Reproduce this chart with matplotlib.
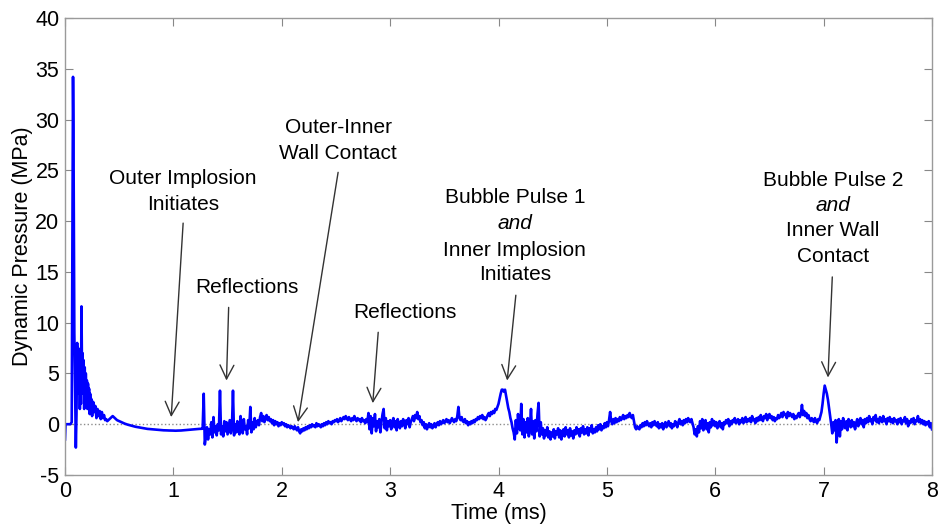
import numpy as np
import matplotlib
matplotlib.use("Agg")
import matplotlib.pyplot as plt

plt.rcParams['font.family'] = ['Liberation Sans', 'DejaVu Sans']
plt.rcParams['axes.unicode_minus'] = False

# -------------------------
# Pressure trace (MPa vs ms)
# -------------------------

# initial shock region, irregular samples
t_early = [0.0, 0.005, 0.05, 0.062, 0.068, 0.074, 0.078, 0.082, 0.086, 0.09, 0.095,
           0.1, 0.106, 0.112, 0.117, 0.122, 0.127, 0.132, 0.137, 0.142, 0.147, 0.152,
           0.157, 0.162, 0.167, 0.172, 0.177, 0.182, 0.187, 0.192, 0.197, 0.202,
           0.207, 0.212, 0.217, 0.222, 0.227, 0.232, 0.237, 0.242, 0.25, 0.26,
           0.27, 0.28, 0.29, 0.30, 0.31, 0.32, 0.33, 0.34, 0.35, 0.36, 0.37, 0.38,
           0.39, 0.40, 0.42, 0.44, 0.46, 0.48]
p_early = [-1.5, 0.0, 0.0, 0.2, 16.0, 34.2, 29.0, 19.0, 9.0, 6.0, 2.0,
           -2.3, 1.0, 8.0, 4.0, 7.5, 3.0, 6.0, 1.5, 5.0, 2.0, 11.6,
           5.0, 7.0, 3.0, 6.3, 1.5, 5.6, 2.5, 5.0, 3.0, 4.3,
           1.5, 4.0, 2.0, 3.5, 1.0, 3.0, 1.5, 2.5, 0.8, 2.2,
           1.2, 1.8, 0.6, 1.5, 0.8, 1.3, 0.5, 1.2, 0.6, 0.9, 0.4, 0.5,
           0.3, 0.4, 0.6, 0.8, 0.6, 0.4]

# rest of the record, one value every 0.01 ms starting at 0.5 ms
T_MAIN0 = 0.5
DT_MAIN = 0.01
p_main = [
    0.3, 0.25, 0.2, 0.15, 0.1, 0.06, 0.02, -0.02, -0.05, -0.08,          # 0.5
    -0.11, -0.14, -0.17, -0.2, -0.22, -0.25, -0.27, -0.3, -0.32, -0.34,  # 0.6
    -0.36, -0.38, -0.4, -0.41, -0.43, -0.44, -0.46, -0.47, -0.48, -0.5,  # 0.7
    -0.51, -0.52, -0.53, -0.54, -0.55, -0.56, -0.56, -0.57, -0.58, -0.58,# 0.8
    -0.59, -0.6, -0.6, -0.61, -0.61, -0.62, -0.62, -0.62, -0.63, -0.63,  # 0.9
    -0.63, -0.64, -0.64, -0.63, -0.63, -0.63, -0.62, -0.62, -0.61, -0.6, # 1.0
    -0.6, -0.59, -0.58, -0.57, -0.56, -0.55, -0.54, -0.53, -0.52, -0.51, # 1.1
    -0.5, -0.49, -0.48, -0.47, -0.46, -0.46, -0.45, -0.44, 3.0, -2.0,    # 1.2
    -1.2, -0.3, -1.5, -0.5, -1.0, 0.2, -1.3, 0.7, -0.8, -0.2,            # 1.3
    -1.1, 0.0, -0.6, 3.3, -1.0, -0.2, -1.2, 0.3, -0.7, 0.2,              # 1.4
    -1.0, -0.3, 0.4, -0.9, -0.4, 3.3, -1.1, 0.0, -0.8, 0.3,              # 1.5
    -0.6, -1.0, 0.8, -0.3, -0.9, 0.5, -0.5, -0.2, -1.0, 0.4,             # 1.6
    -0.4, 1.7, -0.8, 0.2, -0.5, 0.6, -0.3, 0.1, 0.4, -0.1,               # 1.7
    0.7, 1.1, 0.3, 0.8, 0.2, 0.6, 0.9, 0.4, 0.7, 0.3,                    # 1.8
    0.5, 0.1, 0.4, -0.1, 0.3, 0.0, 0.2, -0.2, 0.1, -0.1,                 # 1.9
    0.2, 0.0, 0.1, -0.2, 0.0, -0.3, -0.1, -0.2, -0.4, -0.2,              # 2.0
    -0.3, -0.5, -0.2, -0.4, -0.6, -0.3, -0.7, -0.9, -0.5, -0.7,          # 2.1
    -0.4, -0.6, -0.3, -0.5, -0.2, -0.4, -0.1, -0.3, 0.0, -0.2,           # 2.2
    -0.1, -0.3, 0.1, -0.2, 0.0, -0.1, -0.3, 0.0, -0.2, 0.1,              # 2.3
    -0.1, 0.2, 0.0, 0.3, 0.1, 0.2, 0.0, 0.3, 0.2, 0.4,                   # 2.4
    0.3, 0.5, 0.2, 0.4, 0.6, 0.3, 0.5, 0.7, 0.5, 0.8,                    # 2.5
    0.6, 0.4, 0.7, 0.5, 0.3, 0.6, 0.4, 0.8, 0.5, 0.3,                    # 2.6
    0.6, 0.4, 0.5, 0.2, 0.6, 0.3, 0.4, 0.1, 0.5, 0.2,                    # 2.7
    1.1, -0.5, 0.8, -0.9, 0.6, -0.2, 1.0, -0.7, 0.3, -0.3,               # 2.8
    0.5, -0.8, 0.2, 1.0, 1.5, -0.4, 0.6, -0.6, 0.3, -0.2,                # 2.9
    0.4, -0.5, 0.2, 0.6, -0.3, 0.3, -0.6, 0.5, 0.0, -0.4,                # 3.0
    0.3, -0.2, 0.5, 0.1, -0.4, 0.4, 0.0, 0.6, -0.3, 0.2,                 # 3.1
    0.5, 0.8, 0.3, 0.9, 0.6, 1.2, 0.5, 0.8, 0.2, 0.4,                    # 3.2
    -0.1, 0.2, -0.4, 0.0, -0.5, -0.2, 0.1, -0.3, 0.0, -0.4,              # 3.3
    -0.2, 0.1, -0.3, 0.0, 0.2, -0.1, 0.3, 0.0, 0.2, 0.4,                 # 3.4
    0.1, 0.3, 0.5, 0.2, 0.4, 0.1, 0.3, 0.6, 0.4, 0.2,                    # 3.5
    0.5, 0.3, 0.8, 1.7, 0.6, 0.4, 0.7, 0.3, 0.2, 0.5,                    # 3.6
    0.1, 0.3, -0.1, 0.2, 0.0, 0.3, 0.1, 0.4, 0.2, 0.5,                   # 3.7
    0.4, 0.7, 0.5, 0.8, 0.6, 0.9, 0.5, 0.7, 0.4, 0.6,                    # 3.8
    0.9, 1.1, 0.8, 1.2, 1.0, 1.3, 1.1, 1.5, 1.4, 1.7,                    # 3.9
    2.0, 2.5, 3.0, 3.4, 3.4, 3.2, 3.4, 2.8, 2.2, 1.6,                    # 4.0
    1.2, 0.6, 0.2, -0.4, -0.8, -1.5, 0.4, -0.9, 1.0, -0.3,               # 4.1
    -0.6, 2.0, -1.0, 0.5, -1.3, 0.2, -0.8, 0.6, -1.2, -0.2,              # 4.2
    1.5, -1.0, 0.3, -1.4, 0.4, -0.7, 1.0, 2.1, -1.2, 0.2,                # 4.3
    -1.0, -0.4, -1.4, -0.6, -1.1, -0.3, -1.3, -0.7, -1.5, -0.8,          # 4.4
    -1.2, -0.5, -1.4, -0.7, -1.0, -0.4, -1.3, -0.6, -1.5, -0.9,          # 4.5
    -0.5, -1.2, -0.3, -1.0, -0.6, -1.3, -0.4, -1.1, -0.7, -1.4,          # 4.6
    -0.6, -1.0, -0.3, -0.9, -0.5, -1.2, -0.4, -0.8, -0.2, -1.0,          # 4.7
    -0.5, -0.9, -0.3, -1.1, -0.4, -0.7, -0.1, -0.9, -0.5, -0.8,          # 4.8
    -0.3, -0.7, -0.1, -0.5, 0.0, -0.6, -0.2, -0.4, 0.1, -0.3,            # 4.9
    0.2, -0.2, 0.4, 1.2, 0.3, 0.0, 0.5, 0.1, 0.6, 0.2,                   # 5.0
    0.5, 0.3, 0.7, 0.4, 0.6, 0.9, 0.5, 0.8, 0.6, 0.9,                    # 5.1
    0.7, 1.1, 0.8, 0.6, 0.9, 0.3, -0.3, -0.5, -0.2, -0.4,                # 5.2
    -0.5, -0.1, -0.3, 0.1, -0.2, 0.2, -0.1, 0.3, 0.0, -0.2,              # 5.3
    0.1, -0.3, 0.2, -0.1, 0.3, 0.0, -0.2, 0.2, -0.4, 0.0,                # 5.4
    -0.3, 0.1, -0.5, -0.1, 0.2, -0.3, 0.0, 0.3, -0.2, 0.1,               # 5.5
    -0.4, 0.0, -0.2, 0.3, 0.1, -0.3, 0.2, 0.5, 0.0, 0.3,                 # 5.6
    -0.1, 0.4, 0.1, 0.5, 0.2, 0.6, 0.3, 0.2, 0.5, 0.1,                   # 5.7
    -0.3, -1.0, -0.5, -1.2, -0.2, -0.8, 0.3, -0.4, 0.5, -0.6,            # 5.8
    -0.2, 0.4, -0.5, 0.1, -0.8, 0.2, -0.3, 0.5, -0.1, 0.3,               # 5.9
    -0.2, 0.2, -0.4, 0.0, 0.3, -0.3, 0.1, -0.5, 0.2, 0.0,                # 6.0
    0.4, 0.1, 0.5, -0.2, 0.3, 0.0, 0.4, 0.2, 0.6, 0.1,                   # 6.1
    0.3, 0.5, 0.0, 0.4, 0.2, 0.6, 0.1, 0.3, 0.7, 0.2,                    # 6.2
    0.5, 0.3, 0.6, 0.2, 0.8, 0.4, 0.5, 0.1, 0.6, 0.3,                    # 6.3
    0.7, 0.4, 0.9, 0.5, 0.3, 0.8, 0.6, 1.0, 0.4, 0.7,                    # 6.4
    1.0, 0.6, 0.8, 0.4, 0.7, 0.3, 0.6, 0.5, 0.9, 0.6,                    # 6.5
    0.8, 1.1, 0.7, 1.2, 0.9, 1.0, 0.6, 1.2, 0.8, 1.1,                    # 6.6
    0.9, 0.7, 1.0, 0.5, 0.8, 0.6, 0.9, 1.1, 0.7, 1.0,                    # 6.7
    1.9, 0.9, 1.3, 0.8, 1.1, 0.6, 0.9, 0.5, 0.3, 0.6,                    # 6.8
    0.4, 0.2, 0.6, 0.3, 0.1, 0.5, 0.4, 0.8, 1.2, 2.0,                    # 6.9
    3.0, 3.8, 3.4, 3.0, 2.4, 1.6, 0.8, 0.0, -0.9, 0.2,                   # 7.0
    -0.6, 0.4, -1.8, -0.3, 0.5, -1.2, 0.3, -0.5, 0.6, 0.0,               # 7.1
    -0.4, 0.3, -0.6, 0.5, 0.0, -0.3, 0.4, -0.2, 0.2, -0.5,               # 7.2
    0.1, 0.5, -0.2, 0.3, 0.6, 0.0, 0.4, -0.3, 0.5, 0.1,                  # 7.3
    0.6, 0.2, 0.8, 0.3, 0.5, 0.0, 0.7, 0.4, 0.9, 0.2,                    # 7.4
    0.5, 0.1, 0.7, 0.4, 0.2, 0.8, 0.3, 0.5, 0.0, 0.6,                    # 7.5
    0.3, 0.7, 0.2, 0.5, 0.1, 0.6, 0.3, 0.4, 0.0, 0.5,                    # 7.6
    0.2, 0.6, 0.0, 0.4, 0.3, 0.7, 0.1, 0.5, -0.2, 0.3,                   # 7.7
    0.1, 0.5, 0.2, 0.6, 0.0, 0.4, 0.3, 0.8, 0.2, 0.5,                    # 7.8
    0.1, 0.4, 0.0, 0.3, -0.1, 0.2, 0.0, 0.3, -0.3, 0.1,                  # 7.9
    -0.5,                                                                # 8.0
]

t_main = T_MAIN0 + DT_MAIN * np.arange(len(p_main))
time_ms = np.concatenate([t_early, t_main])
pressure = np.concatenate([p_early, p_main])

x_ticks = [0, 1, 2, 3, 4, 5, 6, 7, 8]
y_ticks = [-5, 0, 5, 10, 15, 20, 25, 30, 35, 40]

# -------------------------
# Plot
# -------------------------
fig = plt.figure(figsize=(9.38, 5.27), dpi=100)
ax = fig.add_axes([0.0693, 0.0987, 0.9243, 0.8672])

ax.plot([0, 8], [0, 0], linestyle=':', color='#8c8c8c', linewidth=1.0)
ax.plot(time_ms, pressure, color='#0000ff', linewidth=1.9)

ax.set_xlim(0, 8)
ax.set_ylim(-5, 40)
ax.set_xticks(x_ticks)
ax.set_yticks(y_ticks)
ax.tick_params(direction='in', length=6, width=0.8, color='#888888',
               top=True, right=True, labelsize=15.5, pad=4)
for s in ax.spines.values():
    s.set_color('#9a9a9a')
    s.set_linewidth(1.0)

ax.set_xlabel('Time (ms)', fontsize=15.5, labelpad=1)
ax.set_ylabel('Dynamic Pressure (MPa)', fontsize=15.5, labelpad=2)

# annotations: text lines (x, y, text, style) and arrows (tail -> head)
FS = 15
labels = [
    (1.09, 24.2, 'Outer Implosion', 'normal'),
    (1.09, 21.65, 'Initiates', 'normal'),
    (1.68, 13.5, 'Reflections', 'normal'),
    (2.52, 29.2, 'Outer-Inner', 'normal'),
    (2.52, 26.7, 'Wall Contact', 'normal'),
    (3.14, 11.0, 'Reflections', 'normal'),
    (4.15, 22.3, 'Bubble Pulse 1', 'normal'),
    (4.15, 19.8, 'and', 'italic'),
    (4.15, 17.1, 'Inner Implosion', 'normal'),
    (4.15, 14.7, 'Initiates', 'normal'),
    (7.085, 24.0, 'Bubble Pulse 2', 'normal'),
    (7.085, 21.55, 'and', 'italic'),
    (7.085, 19.1, 'Inner Wall', 'normal'),
    (7.085, 16.5, 'Contact', 'normal'),
]
for x, y, s, st in labels:
    ax.text(x, y, s, ha='center', va='center', fontsize=FS, style=st, color='black')

arrows = [
    ((1.09, 19.8), (0.98, 0.7)),
    ((1.51, 11.5), (1.49, 4.3)),
    ((2.52, 24.8), (2.15, 0.2)),
    ((2.89, 9.05), (2.84, 2.07)),
    ((4.16, 12.7), (4.08, 4.3)),
    ((7.08, 14.5), (7.04, 4.6)),
]
for tail, head in arrows:
    ax.annotate('', xy=head, xytext=tail,
                arrowprops=dict(arrowstyle='->, head_length=0.5, head_width=0.25',
                                color='#333333', lw=1.0, shrinkA=0, shrinkB=0,
                                mutation_scale=20))

fig.savefig('out.png', dpi=100)
